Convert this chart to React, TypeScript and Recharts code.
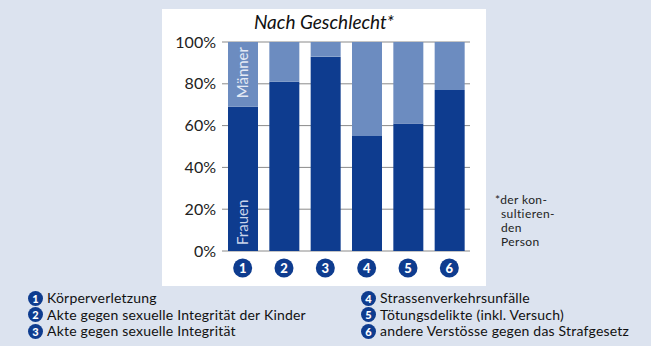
import { BarChart, Bar, XAxis, YAxis, CartesianGrid } from "recharts";

const categories = ["1", "2", "3", "4", "5", "6"];
const frauen = [69, 81, 93, 55, 61, 77];
const maenner = [31, 19, 7, 45, 39, 23];
const yTicks = [0, 20, 40, 60, 80, 100];
const legendLeft = [
  ["1", "Körperverletzung"],
  ["2", "Akte gegen sexuelle Integrität der Kinder"],
  ["3", "Akte gegen sexuelle Integrität"],
];
const legendRight = [
  ["4", "Strassenverkehrsunfälle"],
  ["5", "Tötungsdelikte (inkl. Versuch)"],
  ["6", "andere Verstösse gegen das Strafgesetz"],
];
const footnote = ["*der kon-", "sultieren-", "den", "Person"];

const DARK = "#0e3c8f";
const LIGHT = "#6c8cc0";
const BG = "#dce3ef";
const FONT = "Lato, 'Open Sans', sans-serif";

const data = categories.map((c, i) => ({ cat: c, frauen: frauen[i], maenner: maenner[i] }));

function NumTick({ x, y, payload }: any) {
  return (
    <g>
      <circle cx={x} cy={y + 15} r={9.5} fill={DARK} />
      <text x={x} y={y + 19.5} textAnchor="middle" fill="#fff" fontSize={13} fontWeight={900} fontFamily={FONT}>
        {payload.value}
      </text>
    </g>
  );
}

function FrauenLabel({ x, y, width, height, index }: any) {
  if (index !== 0) return null;
  const cx = x + width / 2 + 5;
  const cy = y + height - 6;
  return (
    <text x={cx} y={cy} transform={`rotate(-90 ${cx} ${cy})`} fill="#c9d4ea" fontSize={15} fontFamily={FONT}>
      Frauen
    </text>
  );
}

function MaennerLabel({ x, y, width, index }: any) {
  if (index !== 0) return null;
  const cx = x + width / 2 + 5;
  const cy = y + 5;
  return (
    <text x={cx} y={cy} transform={`rotate(-90 ${cx} ${cy})`} textAnchor="end" fill="#e4eaf5" fontSize={15} fontFamily={FONT}>
      Männer
    </text>
  );
}

function Bullet({ n, size }: { n: string; size: number }) {
  return (
    <span
      style={{
        display: "inline-block",
        width: size,
        height: size,
        borderRadius: "50%",
        background: DARK,
        color: "#fff",
        fontSize: 11,
        fontWeight: 900,
        lineHeight: `${size}px`,
        textAlign: "center",
        marginRight: 4,
        verticalAlign: "middle",
      }}
    >
      {n}
    </span>
  );
}

function LegendCol({ items, left }: { items: string[][]; left: number }) {
  return (
    <div style={{ position: "absolute", left, top: 289 }}>
      {items.map(([n, t]) => (
        <div key={n} style={{ height: 16.5, lineHeight: "16.5px", fontSize: 14, color: "#111", whiteSpace: "nowrap" }}>
          <Bullet n={n} size={15} />
          <span style={{ verticalAlign: "middle", letterSpacing: 0.2 }}>{t}</span>
        </div>
      ))}
    </div>
  );
}

export default function App() {
  return (
    <div style={{ position: "fixed", left: 0, top: 0, width: 651, height: 346, background: BG, fontFamily: FONT, overflow: "hidden" }}>
      <div style={{ position: "absolute", left: 162, top: 9, width: 324, height: 277, background: "#fff" }} />
      <div
        style={{
          position: "absolute",
          left: 162,
          width: 324,
          top: 10,
          textAlign: "center",
          fontStyle: "italic",
          fontSize: 19,
          color: "#111",
        }}
      >
        Nach Geschlecht*
      </div>
      <div style={{ position: "absolute", left: 0, top: 0 }}>
        <BarChart
          width={651}
          height={346}
          data={data}
          margin={{ top: 42, right: 181, bottom: 65, left: 162 }}
          barSize={30}
        >
          <CartesianGrid vertical={false} stroke="#8a8a8a" strokeWidth={1} />
          <YAxis
            width={60}
            domain={[0, 100]}
            ticks={yTicks}
            tickFormatter={(v: number) => `${v}%`}
            axisLine={false}
            tickLine={false}
            tickSize={0}
            tickMargin={6}
            tick={{ fill: "#222", fontSize: 16, fontFamily: FONT }}
          />
          <XAxis dataKey="cat" height={30} axisLine={false} tickLine={false} tickSize={0} tick={<NumTick />} interval={0} />
          <Bar dataKey="frauen" stackId="a" fill={DARK} isAnimationActive={false} label={<FrauenLabel />} />
          <Bar dataKey="maenner" stackId="a" fill={LIGHT} isAnimationActive={false} label={<MaennerLabel />} />
        </BarChart>
      </div>
      <div style={{ position: "absolute", left: 495, top: 193, fontSize: 12, lineHeight: "14px", letterSpacing: 0.4, color: "#222" }}>
        {footnote.map((l, i) => (
          <div key={i} style={{ paddingLeft: i === 0 ? 0 : 6 }}>{l}</div>
        ))}
      </div>
      <LegendCol items={legendLeft} left={28} />
      <LegendCol items={legendRight} left={361} />
    </div>
  );
}
